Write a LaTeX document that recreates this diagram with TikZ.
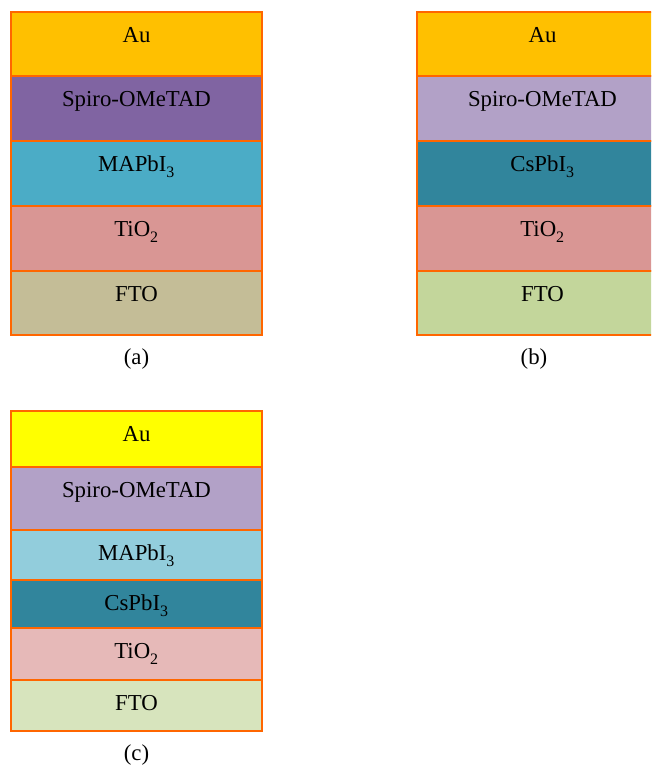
\documentclass[tikz,border=0pt]{standalone}
\usepackage{fontspec}
\setmainfont{Liberation Serif}
\definecolor{edgeor}{RGB}{255,102,0}
\definecolor{auA}{HTML}{FFC000}
\definecolor{auC}{HTML}{FFFF00}
\definecolor{spiroA}{HTML}{8064A2}
\definecolor{spiroB}{HTML}{B2A1C7}
\definecolor{mapiA}{HTML}{4BACC6}
\definecolor{mapiC}{HTML}{92CDDC}
\definecolor{cspi}{HTML}{31859C}
\definecolor{tioA}{HTML}{D99694}
\definecolor{tioC}{HTML}{E6B9B8}
\definecolor{ftoA}{HTML}{C4BD97}
\definecolor{ftoB}{HTML}{C3D69B}
\definecolor{ftoC}{HTML}{D7E4BD}
\newcommand\mylayer[6]{%
  \draw[layerbox, fill=#5] (#2,#3) rectangle ({#2+251},#4);
  \node[lbl] (#1) at ({#2+125.5},{#3+30.5}) {#6};}
\newcommand\sbs[1]{\raisebox{-0.2ex}{\textsubscript{#1}}}
\begin{document}
\begin{tikzpicture}[x=1pt,y=-1pt,
  layerbox/.style={draw=edgeor, line width=1.8pt},
  lbl/.style={anchor=base, font=\fontsize{22.8}{26}\selectfont, inner sep=0pt}]
\useasboundingbox (0,0) rectangle (651,765);
\begin{scope}
\clip (0,0) rectangle (651,765);
% (a)
\mylayer{aAu}{11}{12}{76}{auA}{Au}
\mylayer{aSp}{11}{76}{141}{spiroA}{Spiro-OMeTAD}
\mylayer{aMa}{11}{141}{206}{mapiA}{MAPbI\sbs{3}}
\mylayer{aTi}{11}{206}{271}{tioA}{TiO\sbs{2}}
\mylayer{aFt}{11}{271}{335}{ftoA}{FTO}
\node[lbl] (capA) at (136.5,364) {(a)};
% (b)
\mylayer{bAu}{417}{12}{76}{auA}{Au}
\mylayer{bSp}{417}{76}{141}{spiroB}{Spiro-OMeTAD}
\mylayer{bCs}{417}{141}{206}{cspi}{CsPbI\sbs{3}}
\mylayer{bTi}{417}{206}{271}{tioA}{TiO\sbs{2}}
\mylayer{bFt}{417}{271}{335}{ftoB}{FTO}
\node[lbl] (capB) at (534,364) {(b)};
% (c)
\mylayer{cAu}{11}{411}{467}{auC}{Au}
\mylayer{cSp}{11}{467}{530}{spiroB}{Spiro-OMeTAD}
\mylayer{cMa}{11}{530}{580}{mapiC}{MAPbI\sbs{3}}
\mylayer{cCs}{11}{580}{628}{cspi}{CsPbI\sbs{3}}
\mylayer{cTi}{11}{628}{680}{tioC}{TiO\sbs{2}}
\mylayer{cFt}{11}{680}{731}{ftoC}{FTO}
\node[lbl] (capC) at (136.5,760) {(c)};
\end{scope}
\end{tikzpicture}
\end{document}
